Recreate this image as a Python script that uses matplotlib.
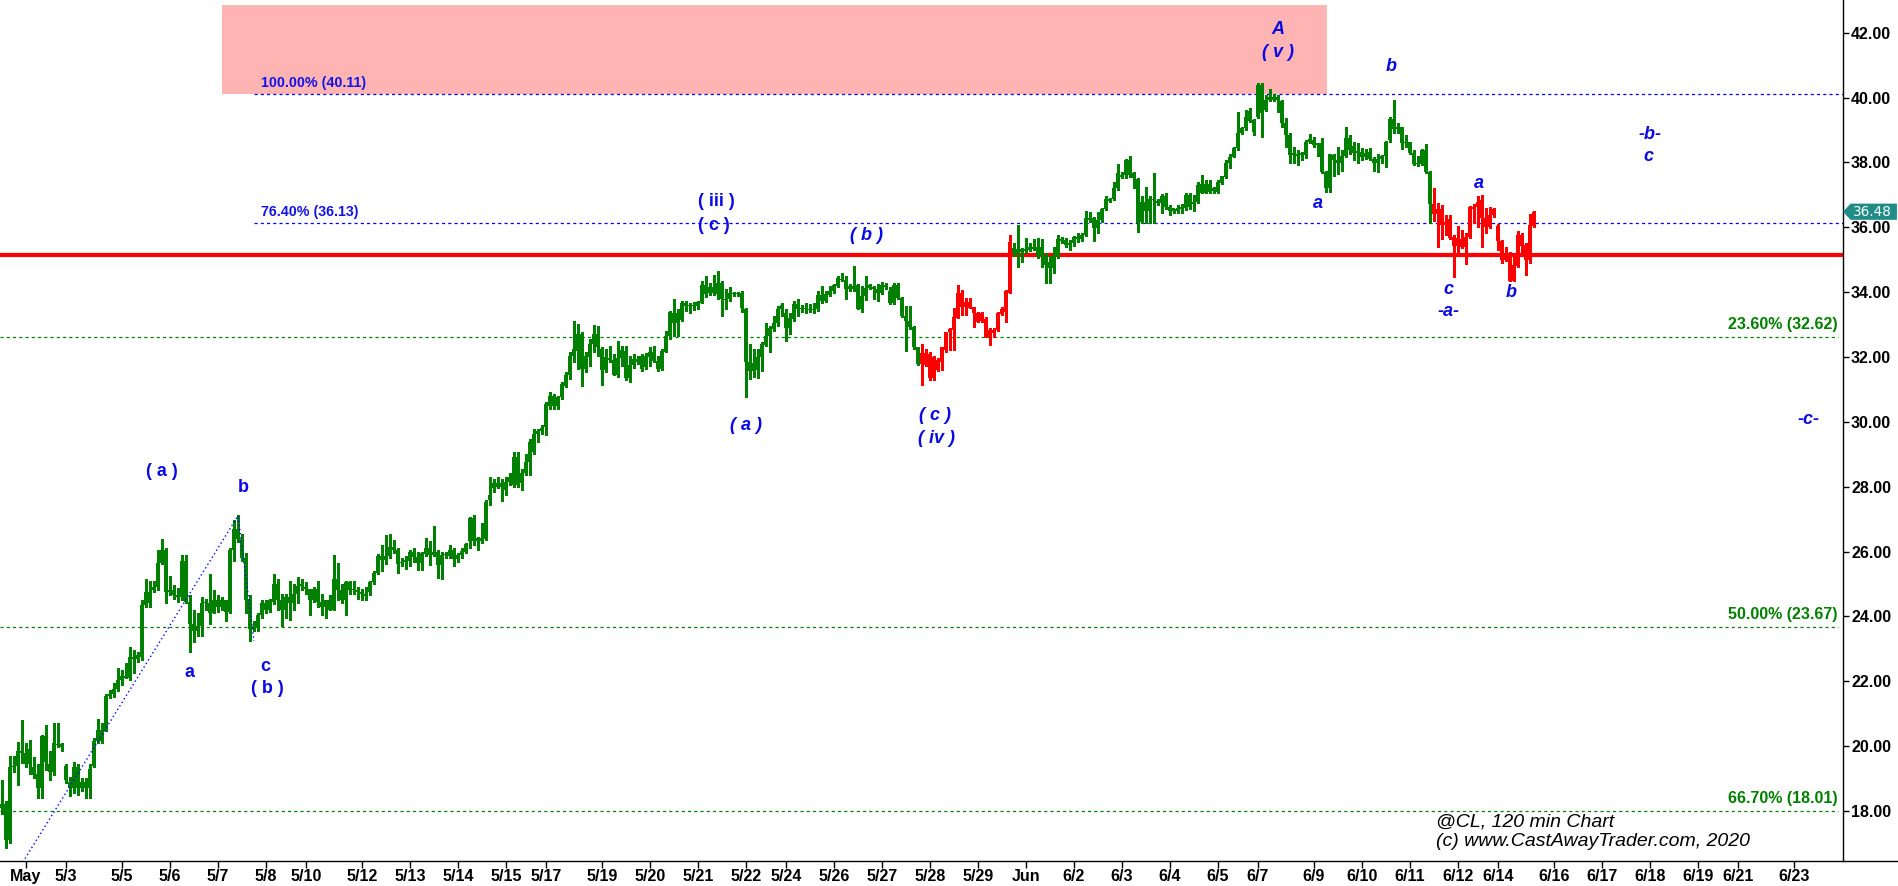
import numpy as np
import matplotlib
matplotlib.use('Agg')
import matplotlib.pyplot as plt
from matplotlib.patches import Rectangle, Polygon
from matplotlib.lines import Line2D
import matplotlib.transforms as mtransforms

plt.rcParams['font.family'] = ['Liberation Sans', 'DejaVu Sans']

# 120 min bars of @CL (one value per bar)
opens = [
    18.20, 18.20, 17.10, 19.35, 19.40, 19.85, 19.80, 19.45, 19.35, 19.15,
    18.70, 20.30, 19.45, 19.20, 20.04, 20.05, 19.40, 18.90, 18.70, 19.35,
    18.70, 18.90, 18.70, 19.40, 20.15, 20.50, 20.50, 21.55, 21.60, 21.75,
    22.05, 22.15, 22.10, 22.75, 22.70, 22.75, 24.35, 24.40, 24.80, 24.90,
    25.65, 26.05, 24.75, 24.80, 24.65, 24.60, 25.70, 24.45, 23.75, 23.55,
    23.70, 24.40, 24.40, 24.10, 24.50, 24.30, 24.50, 24.15, 26.05, 26.70,
    26.40, 25.80, 24.50, 23.60, 23.65, 24.05, 24.40, 24.20, 24.45, 25.00,
    24.50, 24.20, 24.60, 24.40, 24.70, 24.95, 24.90, 24.85, 24.50, 24.85,
    24.45, 24.30, 24.50, 24.20, 25.15, 24.80, 24.50, 25.05, 24.80, 24.80,
    24.75, 24.70, 24.75, 25.05, 25.35, 25.85, 25.75, 25.85, 26.15, 26.05,
    25.64, 25.69, 25.70, 25.98, 25.82, 25.64, 25.92, 26.12, 25.90, 25.98,
    25.59, 25.88, 25.85, 26.05, 25.78, 25.88, 26.00, 26.31, 27.02, 26.31,
    26.41, 26.39, 27.59, 27.95, 28.10, 28.00, 27.89, 28.15, 28.05, 28.92,
    28.10, 28.41, 28.76, 29.07, 29.64, 29.71, 29.84, 30.48, 30.79, 30.48,
    30.76, 31.12, 31.43, 32.04, 32.19, 32.70, 31.63, 31.99, 32.40, 32.70,
    32.26, 31.61, 31.96, 31.92, 31.45, 31.96, 32.19, 31.34, 31.75, 31.94,
    31.63, 32.04, 31.99, 32.14, 31.89, 31.63, 32.16, 32.65, 33.37, 33.06,
    33.15, 33.66, 33.58, 33.56, 33.58, 33.68, 34.21, 33.96, 34.17, 33.93,
    34.29, 33.80, 33.80, 33.96, 33.93, 33.98, 33.49, 31.86, 31.58, 31.61,
    31.99, 32.37, 32.65, 32.86, 33.06, 33.47, 33.35, 32.88, 33.17, 33.63,
    33.47, 33.51, 33.47, 33.45, 33.47, 33.90, 33.73, 33.90, 34.04, 34.19,
    34.41, 34.37, 34.09, 34.19, 34.21, 33.49, 33.88, 34.14, 34.17, 34.09,
    33.98, 34.21, 34.04, 33.66, 34.21, 33.83, 33.27, 33.12, 32.91, 32.30,
    31.78, 32.12, 32.09, 31.34, 31.92, 31.86, 32.22, 32.78, 32.83, 33.19,
    33.96, 33.55, 33.71, 33.55, 33.35, 33.12, 33.16, 32.63, 32.83, 32.83,
    33.33, 33.40, 33.96, 35.35, 35.22, 35.32, 35.28, 35.30, 35.32, 35.38,
    35.12, 35.12, 34.94, 34.73, 35.10, 35.63, 35.61, 35.45, 35.53, 35.69,
    35.63, 35.76, 36.28, 36.28, 35.97, 36.23, 36.55, 36.86, 36.86, 37.20,
    37.61, 37.61, 38.06, 37.67, 37.48, 36.17, 36.79, 36.51, 36.86, 36.82,
    36.74, 36.97, 36.64, 36.51, 36.59, 36.55, 36.59, 36.99, 36.72, 36.79,
    37.07, 37.34, 37.10, 37.20, 37.10, 37.38, 37.54, 37.97, 38.18, 38.44,
    38.90, 39.05, 39.29, 39.31, 39.41, 40.39, 39.62, 39.93, 40.03, 39.93,
    39.88, 39.21, 38.85, 38.23, 38.26, 38.23, 38.23, 38.64, 38.69, 38.54,
    38.59, 37.72, 37.20, 38.23, 38.08, 37.99, 38.20, 38.74, 38.28, 38.28,
    38.32, 38.18, 38.33, 38.10, 37.99, 38.10, 38.20, 38.69, 39.33, 39.02,
    39.08, 38.61, 38.64, 38.30, 37.95, 37.95, 38.39, 37.72, 36.72, 36.41,
    36.55, 36.07, 36.25, 35.69, 35.42, 35.63, 35.38, 35.69, 36.64, 36.62,
    36.84, 36.28, 36.02, 36.38, 36.04, 35.59, 34.99, 35.22, 34.35, 34.81,
    35.76, 35.45, 34.99, 36.04]
highs = [
    18.95, 18.30, 19.70, 19.70, 20.13, 20.80, 20.10, 20.20, 19.65, 19.45,
    20.35, 20.65, 19.85, 20.70, 20.70, 20.10, 19.45, 19.05, 19.50, 19.45,
    19.00, 19.00, 19.45, 20.25, 20.85, 20.70, 21.62, 21.72, 21.93, 22.40,
    22.35, 22.55, 23.05, 22.95, 22.90, 24.50, 25.15, 25.10, 25.10, 26.05,
    26.38, 26.10, 25.24, 24.97, 24.86, 25.90, 25.90, 24.65, 24.20, 24.10,
    24.60, 24.55, 25.30, 24.80, 24.65, 24.60, 24.50, 26.10, 26.97, 27.12,
    26.55, 25.95, 24.65, 23.87, 24.10, 24.50, 24.50, 24.55, 25.30, 25.15,
    24.70, 24.70, 25.10, 25.00, 25.20, 25.15, 25.05, 24.85, 24.90, 25.10,
    24.70, 24.50, 24.65, 25.90, 25.65, 25.00, 25.10, 25.10, 25.10, 24.90,
    24.85, 24.90, 25.10, 25.40, 25.92, 26.20, 26.50, 26.55, 26.35, 26.10,
    25.80, 25.85, 26.05, 26.10, 25.98, 26.00, 26.43, 26.31, 26.80, 26.05,
    26.00, 26.00, 26.21, 26.10, 25.95, 26.10, 26.26, 27.08, 27.13, 26.46,
    26.87, 27.59, 28.30, 28.25, 28.30, 28.25, 28.30, 28.41, 29.07, 29.07,
    28.56, 29.02, 29.48, 29.79, 29.79, 29.89, 30.61, 30.91, 30.86, 30.81,
    31.22, 31.53, 32.14, 33.12, 33.01, 32.76, 32.14, 32.55, 32.98, 32.96,
    32.30, 32.24, 32.35, 32.09, 32.50, 32.35, 32.35, 32.02, 32.09, 32.04,
    32.09, 32.12, 32.30, 32.35, 32.04, 32.24, 32.81, 33.42, 33.78, 33.47,
    33.73, 33.73, 33.68, 33.70, 33.73, 34.34, 34.50, 34.29, 34.52, 34.65,
    34.34, 34.09, 34.17, 34.00, 34.00, 34.04, 33.52, 32.40, 32.24, 32.24,
    32.45, 33.06, 32.96, 33.27, 33.58, 33.66, 33.47, 33.37, 33.73, 33.78,
    33.60, 33.68, 33.63, 33.68, 34.04, 34.19, 34.04, 34.19, 34.24, 34.50,
    34.58, 34.50, 34.24, 34.82, 34.24, 34.19, 34.50, 34.24, 34.19, 34.24,
    34.31, 34.29, 34.17, 34.29, 34.29, 33.86, 33.58, 33.58, 32.96, 32.30,
    32.40, 32.24, 32.14, 32.04, 31.96, 32.32, 32.78, 32.88, 33.50, 34.22,
    34.07, 33.81, 33.81, 33.55, 33.40, 33.40, 33.24, 32.88, 32.88, 33.40,
    33.55, 34.07, 35.76, 35.51, 36.07, 35.35, 35.66, 35.51, 35.63, 35.66,
    35.63, 35.20, 35.10, 35.40, 35.76, 35.69, 35.66, 35.61, 35.73, 35.81,
    35.81, 36.51, 36.48, 36.33, 36.48, 36.59, 36.95, 36.89, 37.41, 37.95,
    37.71, 38.10, 38.20, 37.69, 37.51, 36.95, 37.25, 36.95, 37.67, 36.86,
    37.03, 37.07, 36.69, 36.55, 36.69, 36.72, 37.05, 37.07, 36.99, 37.41,
    37.61, 37.46, 37.46, 37.25, 37.46, 37.58, 38.06, 38.26, 38.49, 39.57,
    39.10, 39.62, 39.67, 39.33, 40.46, 40.44, 40.08, 40.26, 40.11, 40.08,
    39.93, 39.36, 38.90, 38.49, 38.39, 38.33, 38.69, 38.88, 38.78, 38.59,
    38.74, 37.75, 38.26, 38.26, 38.49, 38.39, 39.08, 38.85, 38.64, 38.61,
    38.44, 38.40, 38.44, 38.18, 38.26, 38.23, 38.67, 39.41, 39.93, 39.23,
    39.10, 38.85, 38.64, 38.39, 38.20, 38.40, 38.57, 37.75, 37.20, 36.74,
    36.69, 36.38, 36.38, 35.76, 36.04, 35.92, 35.81, 36.66, 36.72, 36.95,
    36.99, 36.59, 36.64, 36.59, 36.10, 35.61, 35.40, 35.25, 35.20, 35.90,
    35.81, 35.51, 36.41, 36.51]
lows = [
    17.90, 16.85, 17.00, 19.20, 18.80, 19.47, 19.35, 19.15, 19.00, 18.40,
    18.40, 19.25, 18.95, 19.10, 19.98, 19.85, 18.85, 18.45, 18.55, 18.50,
    18.60, 18.40, 18.40, 19.35, 20.10, 20.10, 20.45, 21.47, 21.50, 21.70,
    21.88, 22.10, 22.04, 22.25, 22.60, 22.65, 24.30, 24.30, 24.75, 24.80,
    25.60, 24.40, 24.65, 24.55, 24.45, 24.50, 24.40, 22.90, 23.20, 23.40,
    23.40, 24.20, 23.75, 24.10, 24.15, 24.20, 23.85, 24.10, 25.70, 26.30,
    25.70, 24.10, 23.25, 23.55, 23.55, 23.95, 24.10, 24.15, 24.38, 24.20,
    23.70, 23.95, 23.90, 24.20, 24.40, 24.80, 24.70, 24.05, 24.45, 24.30,
    24.05, 23.95, 24.20, 24.20, 24.50, 24.40, 24.05, 24.70, 24.70, 24.55,
    24.50, 24.50, 24.65, 25.00, 25.30, 25.40, 25.60, 25.80, 25.95, 25.35,
    25.54, 25.45, 25.54, 25.69, 25.44, 25.44, 25.85, 25.59, 25.85, 25.18,
    25.16, 25.80, 25.80, 25.54, 25.69, 25.80, 25.95, 26.10, 26.21, 26.05,
    26.26, 26.36, 27.43, 27.84, 27.95, 27.56, 27.74, 28.05, 28.00, 28.00,
    27.89, 28.36, 28.36, 29.02, 29.38, 29.64, 29.59, 30.40, 30.40, 30.40,
    30.71, 31.07, 31.32, 31.84, 31.63, 31.10, 31.53, 31.73, 32.14, 32.04,
    31.14, 31.55, 31.84, 31.43, 31.37, 31.71, 31.30, 31.24, 31.65, 31.78,
    31.58, 31.63, 31.73, 31.86, 31.58, 31.61, 32.14, 32.55, 32.65, 32.65,
    33.12, 33.42, 33.37, 33.45, 33.47, 33.66, 33.86, 33.90, 33.90, 33.78,
    33.27, 33.47, 33.73, 33.88, 33.88, 33.39, 30.76, 31.32, 31.37, 31.34,
    31.58, 32.35, 32.14, 32.81, 32.96, 33.27, 32.50, 32.70, 33.12, 33.27,
    33.40, 33.35, 33.40, 33.35, 33.42, 33.68, 33.70, 33.88, 33.98, 34.17,
    34.34, 33.78, 34.04, 34.04, 33.47, 33.39, 33.76, 34.09, 33.78, 33.73,
    33.93, 34.09, 33.63, 33.63, 33.78, 33.22, 32.19, 32.86, 32.24, 31.75,
    31.14, 31.73, 31.30, 31.30, 31.58, 31.60, 32.16, 32.22, 32.22, 33.19,
    33.30, 33.30, 33.50, 32.94, 33.09, 33.09, 32.61, 32.37, 32.61, 32.81,
    33.30, 33.09, 33.96, 35.10, 34.79, 34.94, 35.22, 35.28, 35.30, 35.04,
    34.79, 34.27, 34.27, 34.58, 35.04, 35.51, 35.40, 35.30, 35.42, 35.56,
    35.59, 35.73, 36.17, 35.59, 35.81, 36.17, 36.53, 36.79, 36.84, 37.15,
    37.51, 37.51, 37.56, 37.20, 35.87, 36.14, 36.14, 36.14, 36.14, 36.69,
    36.43, 36.55, 36.38, 36.43, 36.43, 36.45, 36.53, 36.55, 36.51, 36.74,
    37.05, 37.05, 37.05, 37.05, 37.05, 37.34, 37.51, 37.82, 38.16, 38.39,
    38.88, 39.00, 39.26, 38.85, 39.38, 38.80, 39.60, 39.88, 39.88, 39.57,
    39.10, 38.49, 37.97, 37.97, 37.92, 38.08, 38.13, 38.59, 38.49, 38.20,
    37.67, 37.10, 37.10, 37.58, 37.64, 37.75, 38.16, 38.26, 38.08, 37.99,
    38.08, 38.10, 38.06, 37.75, 37.72, 37.99, 37.87, 38.64, 38.90, 38.92,
    38.40, 38.49, 38.26, 37.92, 37.89, 37.92, 37.67, 36.14, 36.20, 35.40,
    35.63, 35.76, 35.63, 34.48, 35.15, 35.35, 34.87, 35.66, 36.14, 36.02,
    35.40, 35.81, 35.97, 36.33, 35.30, 34.91, 34.97, 34.35, 34.35, 34.77,
    35.10, 34.53, 34.89, 36.02]
closes = [
    18.10, 17.10, 19.35, 19.40, 19.85, 19.78, 19.45, 19.90, 19.10, 18.70,
    20.30, 19.50, 19.20, 20.10, 20.07, 19.98, 18.95, 18.70, 19.35, 18.70,
    18.90, 18.70, 19.30, 20.15, 20.50, 20.15, 21.55, 21.60, 21.75, 22.05,
    22.15, 22.10, 22.75, 22.68, 22.80, 24.35, 24.75, 24.75, 24.90, 25.65,
    26.05, 24.75, 24.80, 24.65, 24.60, 25.70, 24.45, 23.75, 23.55, 23.70,
    24.40, 24.42, 24.10, 24.50, 24.30, 24.50, 24.15, 26.05, 26.70, 26.40,
    25.80, 24.50, 23.60, 23.70, 24.05, 24.40, 24.20, 24.50, 25.00, 24.50,
    24.20, 24.60, 24.40, 24.70, 24.95, 24.98, 24.85, 24.50, 24.85, 24.45,
    24.30, 24.50, 24.20, 25.15, 24.80, 24.50, 25.05, 24.80, 24.83, 24.75,
    24.68, 24.62, 25.05, 25.35, 25.85, 25.75, 25.85, 26.15, 26.05, 25.60,
    25.69, 25.75, 25.98, 25.82, 25.64, 25.95, 26.12, 25.90, 26.00, 25.59,
    25.88, 25.90, 26.05, 25.78, 25.88, 26.02, 26.23, 27.02, 26.31, 26.41,
    26.31, 27.54, 27.74, 28.10, 28.00, 28.10, 28.15, 28.30, 28.92, 28.05,
    28.41, 28.76, 29.38, 29.64, 29.71, 29.81, 30.56, 30.79, 30.48, 30.76,
    31.17, 31.45, 32.04, 32.24, 32.70, 31.63, 32.04, 32.40, 32.70, 32.30,
    31.61, 31.99, 31.92, 31.45, 31.96, 32.22, 31.34, 31.75, 31.94, 31.84,
    32.04, 31.68, 32.14, 31.89, 31.63, 32.19, 32.65, 33.39, 33.06, 33.37,
    33.66, 33.58, 33.56, 33.60, 33.70, 34.21, 33.93, 34.17, 33.96, 34.29,
    33.80, 33.76, 33.96, 33.93, 33.98, 33.52, 31.86, 31.58, 31.81, 31.99,
    32.40, 32.65, 32.88, 33.06, 33.47, 33.60, 32.88, 33.19, 33.63, 33.47,
    33.51, 33.49, 33.45, 33.47, 33.90, 33.73, 33.93, 34.04, 34.21, 34.45,
    34.37, 34.09, 34.19, 34.09, 33.49, 33.88, 34.14, 34.21, 34.09, 33.98,
    34.21, 34.17, 33.68, 34.21, 33.83, 33.27, 33.12, 32.91, 32.30, 31.78,
    32.12, 31.75, 31.34, 31.99, 31.61, 32.32, 32.78, 32.85, 33.24, 33.96,
    33.55, 33.71, 33.50, 33.35, 33.09, 33.35, 32.61, 32.83, 32.73, 33.35,
    33.47, 34.02, 35.56, 35.20, 35.32, 35.25, 35.32, 35.38, 35.40, 35.12,
    35.38, 34.84, 34.73, 35.10, 35.63, 35.59, 35.45, 35.53, 35.69, 35.63,
    35.76, 36.28, 36.23, 35.97, 36.23, 36.55, 36.86, 36.82, 37.20, 37.67,
    37.56, 38.06, 37.61, 37.51, 36.14, 36.79, 36.51, 36.86, 36.84, 36.74,
    36.97, 36.62, 36.51, 36.59, 36.51, 36.64, 36.99, 36.62, 36.79, 37.31,
    37.34, 37.07, 37.34, 37.13, 37.41, 37.58, 37.99, 38.18, 38.44, 38.92,
    39.05, 39.41, 39.60, 38.95, 40.39, 39.54, 39.93, 40.03, 39.93, 40.03,
    39.21, 38.85, 38.23, 38.28, 38.20, 38.28, 38.64, 38.71, 38.54, 38.59,
    37.69, 37.20, 38.26, 38.06, 37.99, 38.20, 38.74, 38.39, 38.51, 38.36,
    38.18, 38.30, 38.10, 37.99, 38.10, 38.20, 38.64, 39.33, 39.02, 39.08,
    38.61, 38.64, 38.30, 37.95, 37.99, 38.39, 37.72, 36.72, 36.41, 36.55,
    36.07, 36.17, 35.66, 35.42, 35.66, 35.38, 35.69, 36.64, 36.55, 36.79,
    36.28, 36.02, 36.38, 36.55, 35.59, 34.99, 35.18, 34.35, 34.84, 35.76,
    35.42, 34.99, 36.07, 36.48]

# bars painted red by the trend colouring (first, last bar index)
red_spans = [(230, 252), (358, 383)]

# date axis: bar index of each label
tick_pos = [6, 16, 30, 42, 54, 66, 76, 90, 102, 114,
            126, 136, 150, 162, 174, 186, 196, 208, 220, 232,
            244, 256, 268, 280, 292, 304, 314, 328, 340, 352,
            364, 374, 388, 400, 412, 424, 434, 448]
tick_lab = ['May', '5/3', '5/5', '5/6', '5/7', '5/8', '5/10', '5/12', '5/13', '5/14',
            '5/15', '5/17', '5/19', '5/20', '5/21', '5/22', '5/24', '5/26', '5/27', '5/28',
            '5/29', 'Jun', '6/2', '6/3', '6/4', '6/5', '6/7', '6/9', '6/10', '6/11',
            '6/12', '6/14', '6/16', '6/17', '6/18', '6/19', '6/21', '6/23']

# fibonacci levels
fib_blue = [40.11, 36.13]
fib_blue_text = ['100.00% (40.11)', '76.40% (36.13)']
fib_green = [32.62, 23.67, 18.01]
fib_green_text = ['23.60% (32.62)', '50.00% (23.67)', '66.70% (18.01)']
key_level = 35.13
last_price = 36.48

# target zone (pink box)
zone_x = (54.9, 331.2)
zone_y = (40.11, 42.86)

# wave count trendline (dotted)
trend_x = [5.2, 59.0, 63.0]
trend_y = [16.42, 27.10, 23.24]

# elliott wave labels
wave_text = ['( a )', 'b', 'a', 'c', '( b )', '( iii )', '( c )',
             '( b )', '( a )', '( c )', '( iv )', 'A', '( v )', 'a', 'b',
             'a', 'c', '-a-', 'b', '-b-', 'c', '-c-']
wave_x = [40.0, 60.25, 47.0, 65.75, 66.25, 178.7, 178.0,
          216.25, 186.0, 233.25, 233.75, 319.0, 319.0, 329.0, 347.25,
          369.25, 361.5, 361.75, 377.25, 412.0, 411.5, 451.75]
wave_y = [28.48, 27.96, 22.28, 22.44, 21.79, 36.80, 36.06,
          35.76, 29.88, 30.18, 29.48, 42.09, 41.38, 36.72, 40.95,
          37.34, 34.07, 33.39, 33.98, 38.85, 38.17, 30.08]
wave_italic = [False] * 7 + [True] * 15

GREEN = '#008000'
RED = '#ff0000'
WAVE = '#0a0ae6'

fig = plt.figure(figsize=(18.99, 8.86), dpi=100)
ax = fig.add_axes([0, 0.0282, 0.9705, 0.9718])

o = np.array(opens)
h = np.array(highs)
l = np.array(lows)
c = np.array(closes)
idx = np.arange(len(c))
is_red = np.zeros(len(c), dtype=bool)
for a, b in red_spans:
    is_red[a:b + 1] = True
cols = np.where(is_red, RED, GREEN)

# zone
ax.add_patch(Rectangle((zone_x[0], zone_y[0]), zone_x[1] - zone_x[0], zone_y[1] - zone_y[0],
                       facecolor='#ffb4b4', edgecolor='none', zorder=0))

# candles
ax.vlines(idx, l, h, colors=cols, linewidth=1.0, antialiased=False, zorder=3)
body_lo = np.minimum(o, c)
body_h = np.maximum(np.abs(c - o), 0.035)
ax.bar(idx, body_h, width=0.75, bottom=body_lo, color=cols, linewidth=0,
       antialiased=False, zorder=3)

# fib lines
for lev, txt in zip(fib_blue, fib_blue_text):
    ax.hlines(lev, 63, 460.25, colors='#0000ff', linestyles=(0, (2.5, 2.5)), linewidth=0.9, zorder=2)
    ax.text(64.7, lev + 0.13, txt, color='#1414e6', fontsize=10.3, fontweight='bold',
            ha='left', va='bottom', zorder=4)
for lev, txt in zip(fib_green, fib_green_text):
    ax.hlines(lev, -0.5, 459, colors=GREEN, linestyles=(0, (2.5, 2.5)), linewidth=0.9, zorder=2)
    ax.text(459, lev + 0.15, txt, color=GREEN, fontsize=11.5, fontweight='bold',
            ha='right', va='bottom', zorder=4)

ax.axhline(key_level, color=RED, linewidth=3.0, zorder=2.5)

ax.plot(trend_x, trend_y, color='#0000ff', linestyle=(0, (1, 2)), linewidth=1.0, zorder=4)

for s, x, y, it in zip(wave_text, wave_x, wave_y, wave_italic):
    ax.text(x, y, s, color=WAVE, fontsize=13, fontweight='bold',
            style='italic' if it else 'normal', ha='center', va='center', zorder=5)

ax.set_xlim(-0.5, 460.25)
ax.set_ylim(16.455, 43.01)

# axes styling
for side in ['top', 'left', 'bottom']:
    ax.spines[side].set_visible(False)
ax.spines['right'].set_linewidth(1.0)
ax.yaxis.tick_right()
yt = np.arange(18, 43, 2)
ax.set_yticks(yt)
ax.set_yticklabels([f'{v:.2f}' for v in yt])
ax.tick_params(axis='y', direction='out', length=4.3, width=1, pad=1.5, labelsize=11.5)
for t in ax.get_yticklabels():
    t.set_fontweight('bold')
ax.set_xticks(tick_pos)
ax.set_xticklabels(tick_lab)
ax.tick_params(axis='x', direction='out', length=5, width=1, pad=0.5, labelsize=11.5)
for t in ax.get_xticklabels():
    t.set_fontweight('bold')

fig.add_artist(Line2D([0, 1], [0.0282, 0.0282], transform=fig.transFigure,
                      color='black', linewidth=1.0))

# last price tag
trans = mtransforms.blended_transform_factory(fig.transFigure, ax.transData)
tag = Polygon([(0.9705, last_price), (0.9745, last_price + 0.25), (0.9989, last_price + 0.25),
               (0.9989, last_price - 0.25), (0.9745, last_price - 0.25)],
              closed=True, transform=trans, facecolor='#1f8c88', edgecolor='none',
              clip_on=False, zorder=10)
fig.add_artist(tag)
fig.text(0.9862, last_price, f'{last_price:.2f}', transform=trans, color='white', fontsize=9.8,
         family='DejaVu Sans', ha='center', va='center', zorder=11)

fig.text(1436 / 1899, 1 - 822 / 886, '@CL, 120 min Chart', style='italic',
         fontsize=14, ha='left', va='center')
fig.text(1436 / 1899, 1 - 842 / 886, '(c) www.CastAwayTrader.com, 2020', style='italic',
         fontsize=14, ha='left', va='center')

fig.savefig('out.png', dpi=100)
